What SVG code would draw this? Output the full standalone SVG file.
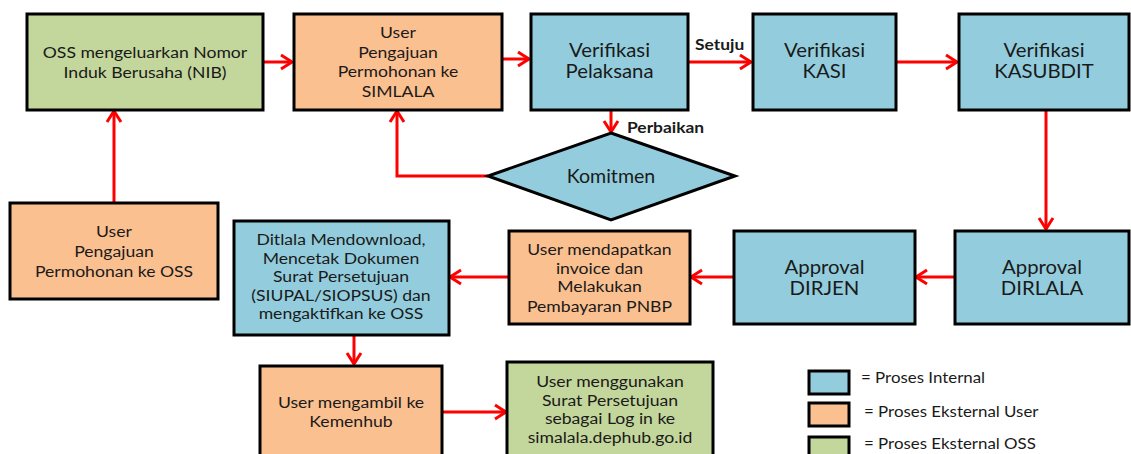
<svg xmlns="http://www.w3.org/2000/svg" width="1131" height="454" viewBox="0 0 1131 454">
<defs>
<marker id="ah" markerUnits="userSpaceOnUse" markerWidth="16" markerHeight="18" viewBox="-2 -9 16 18" refX="11" refY="0" orient="auto">
<path d="M0,-7 L11,0 L0,7" fill="none" stroke="#ff0000" stroke-width="3" stroke-linejoin="miter"/>
</marker>
</defs>
<style>
.box{stroke:#000;stroke-width:3}
.int{fill:#93cddd}
.usr{fill:#fac090}
.oss{fill:#c3d69b}
.t{font-family:Lato,"Open Sans",sans-serif;font-size:16px;fill:#1a1a1a;text-anchor:middle}
.tb{font-family:Lato,"Open Sans",sans-serif;font-size:18.5px;fill:#1a1a1a;text-anchor:middle}
.lbl{font-family:Lato,"Open Sans",sans-serif;font-size:14.5px;font-weight:bold;fill:#1a1a1a}
.lg{font-family:Lato,"Open Sans",sans-serif;font-size:15.5px;fill:#1a1a1a}
.c{fill:none;stroke:#ff0000;stroke-width:3;marker-end:url(#ah)}
</style>
<rect width="1131" height="454" fill="#fff"/>
<g id="connectors">
<path class="c" d="M263,62 H292"/>
<path class="c" d="M502,59 H529"/>
<path class="c" d="M688,62 H751"/>
<path class="c" d="M896,62 H957"/>
<path class="c" d="M1046,110 V229"/>
<path class="c" d="M955,277 H916"/>
<path class="c" d="M734,277 H691"/>
<path class="c" d="M509,277 H450"/>
<path class="c" d="M354,335 V364"/>
<path class="c" d="M442,412 H506"/>
<path class="c" d="M114,203 V111"/>
<path class="c" d="M611,110 V132"/>
<path class="c" d="M488,176 H397 V111"/>
<text class="lbl" transform="translate(695,0) scale(1.2,1)" x="0" y="50">Setuju</text>
<text class="lbl" transform="translate(627,0) scale(1.2,1)" x="0" y="133">Perbaikan</text>
</g>
<g id="n-nib">
<rect class="box oss" x="27" y="14" width="236" height="96"/>
<text class="t" transform="translate(145,0) scale(1.1,1)"><tspan x="0" y="58">OSS mengeluarkan Nomor</tspan><tspan x="0" y="78">Induk Berusaha (NIB)</tspan></text>
</g>
<g id="n-simlala">
<rect class="box usr" x="294" y="14" width="208" height="96"/>
<text class="t" transform="translate(398,0) scale(1.1,1)"><tspan x="0" y="38">User</tspan><tspan x="0" y="58">Pengajuan</tspan><tspan x="0" y="77">Permohonan ke</tspan><tspan x="0" y="97">SIMLALA</tspan></text>
</g>
<g id="n-pelaksana">
<rect class="box int" x="531" y="14" width="157" height="96"/>
<text class="tb" transform="translate(609.5,0) scale(1.1,1)"><tspan x="0" y="57">Verifikasi</tspan><tspan x="0" y="78">Pelaksana</tspan></text>
</g>
<g id="n-kasi">
<rect class="box int" x="753" y="14" width="143" height="96"/>
<text class="tb" transform="translate(824.5,0) scale(1.1,1)"><tspan x="0" y="57">Verifikasi</tspan><tspan x="0" y="78">KASI</tspan></text>
</g>
<g id="n-kasubdit">
<rect class="box int" x="959" y="14" width="170" height="96"/>
<text class="tb" transform="translate(1044,0) scale(1.1,1)"><tspan x="0" y="57">Verifikasi</tspan><tspan x="0" y="78">KASUBDIT</tspan></text>
</g>
<g id="n-komitmen">
<polygon class="box int" points="611,133 735,176 611,220 488,176"/>
<text class="tb" transform="translate(611,0) scale(1.06,1)" x="0" y="183">Komitmen</text>
</g>
<g id="n-oss">
<rect class="box usr" x="10" y="203" width="208" height="96"/>
<text class="t" transform="translate(114,0) scale(1.1,1)"><tspan x="0" y="237">User</tspan><tspan x="0" y="257">Pengajuan</tspan><tspan x="0" y="277">Permohonan ke OSS</tspan></text>
</g>
<g id="n-ditlala">
<rect class="box int" x="234" y="221" width="215" height="114"/>
<text class="t" transform="translate(341,0) scale(1.1,1)"><tspan x="0" y="245">Ditlala Mendownload,</tspan><tspan x="0" y="264">Mencetak Dokumen</tspan><tspan x="0" y="282">Surat Persetujuan</tspan><tspan x="0" y="301">(SIUPAL/SIOPSUS) dan</tspan><tspan x="0" y="319">mengaktifkan ke OSS</tspan></text>
</g>
<g id="n-invoice">
<rect class="box usr" x="509" y="231" width="181" height="93"/>
<text class="t" transform="translate(599.5,0) scale(1.1,1)"><tspan x="0" y="255">User mendapatkan</tspan><tspan x="0" y="274">invoice dan</tspan><tspan x="0" y="292">Melakukan</tspan><tspan x="0" y="312">Pembayaran PNBP</tspan></text>
</g>
<g id="n-dirjen">
<rect class="box int" x="734" y="231" width="181" height="93"/>
<text class="tb" transform="translate(824.5,0) scale(1.1,1)"><tspan x="0" y="274">Approval</tspan><tspan x="0" y="295">DIRJEN</tspan></text>
</g>
<g id="n-dirlala">
<rect class="box int" x="955" y="231" width="174" height="93"/>
<text class="tb" transform="translate(1042,0) scale(1.1,1)"><tspan x="0" y="274">Approval</tspan><tspan x="0" y="295">DIRLALA</tspan></text>
</g>
<g id="n-kemenhub">
<rect class="box usr" x="260" y="366" width="182" height="100"/>
<text class="t" transform="translate(351,0) scale(1.1,1)"><tspan x="0" y="408">User mengambil ke</tspan><tspan x="0" y="427">Kemenhub</tspan></text>
</g>
<g id="n-login">
<rect class="box oss" x="507" y="362" width="206" height="100"/>
<text class="t" transform="translate(610,0) scale(1.1,1)"><tspan x="0" y="387">User menggunakan</tspan><tspan x="0" y="406">Surat Persetujuan</tspan><tspan x="0" y="424">sebagai Log in ke</tspan><tspan x="0" y="443">simalala.dephub.go.id</tspan></text>
</g>
<g id="legend">
<rect class="box int" x="809" y="371" width="40" height="23"/>
<text class="lg" transform="translate(861,0) scale(1.09,1)" x="0" y="383">= Proses Internal</text>
<rect class="box usr" x="809" y="403" width="40" height="23"/>
<text class="lg" transform="translate(864,0) scale(1.09,1)" x="0" y="417">= Proses Eksternal User</text>
<rect class="box oss" x="809" y="437" width="40" height="23"/>
<text class="lg" transform="translate(864,0) scale(1.09,1)" x="0" y="449">= Proses Eksternal OSS</text>
</g>
</svg>
